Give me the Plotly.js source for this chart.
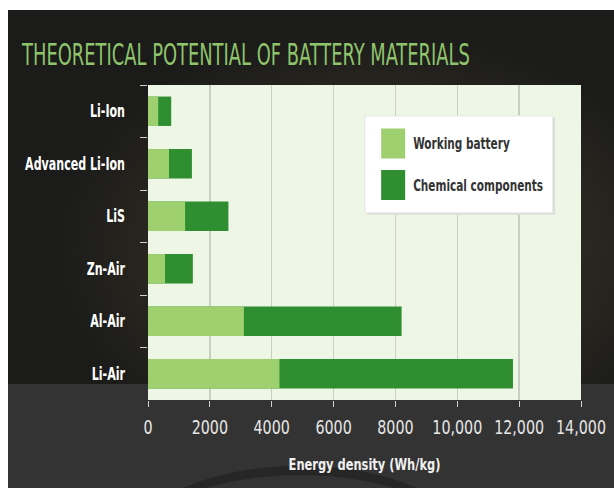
<!DOCTYPE html>
<html>
<head>
<meta charset="utf-8">
<script src="https://cdn.plot.ly/plotly-3.0.1.min.js"></script>
<style>
  html, body { margin: 0; padding: 0; background: #ffffff; }
  #wrap { position: relative; width: 614px; height: 488px; overflow: hidden; background: #ffffff; }
  #dark { position: absolute; left: 8px; top: 10px; width: 606px; height: 374px;
          background: radial-gradient(ellipse 320px 220px at 365px 240px, #3c3828 0%, #28261f 70%, #1b1b1a 100%); }
  #grey { position: absolute; left: 8px; top: 384px; width: 606px; height: 104px; background: #333333; }
  #arc { position: absolute; left: 140px; top: 466px; width: 320px; height: 140px; border-radius: 50%;
         border: 9px solid #262626; box-sizing: border-box; }
  #chart { position: absolute; left: 0; top: 0; width: 614px; height: 488px; }
</style>
</head>
<body>
<div id="wrap">
  <div id="dark"></div>
  <div id="grey"></div>
  <div id="arc"></div>
  <div id="chart"></div>
</div>
<script>
const categories = ["Li-Ion", "Advanced Li-Ion", "LiS", "Zn-Air", "Al-Air", "Li-Air"];
const workingBattery = [330, 680, 1200, 550, 3100, 4250];
const chemicalComponents = [750, 1420, 2600, 1450, 8200, 11800];
const tickValues = [0, 2000, 4000, 6000, 8000, 10000, 12000, 14000];
const tickLabels = ["0", "2000", "4000", "6000", "8000", "10,000", "12,000", "14,000"];

const FONT = "'DejaVu Sans Condensed', 'DejaVu Sans', sans-serif";

const traces = [
  {
    type: "bar", orientation: "h", name: "Chemical components",
    y: categories, x: chemicalComponents, legendgroup: "chem", legendrank: 2,
    marker: { color: "#2f8f30" }, width: 0.56, opacity: 1
  },
  {
    type: "bar", orientation: "h", name: "Working battery",
    y: categories, x: workingBattery, legendgroup: "work", legendrank: 1,
    marker: { color: "#9fd070" }, width: 0.56, opacity: 1
  }
];

const layout = {
  width: 614, height: 488,
  paper_bgcolor: "rgba(0,0,0,0)",
  plot_bgcolor: "#eef6e6",
  margin: { l: 148, r: 33, t: 85, b: 88 },
  barmode: "overlay",
  showlegend: true,
  title: {
    text: "THEORETICAL POTENTIAL OF BATTERY MATERIALS",
    font: { family: FONT, size: 30, color: "#8fc46c" },
    xref: "container", yref: "container",
    x: 0.036, xanchor: "left", y: 0.889, yanchor: "middle"
  },
  xaxis: {
    range: [0, 14000],
    tickmode: "array", tickvals: tickValues, ticktext: tickLabels,
    ticks: "outside", ticklen: 6, tickcolor: "#cfcfcf", tickwidth: 1,
    showgrid: true, gridcolor: "#c9cfc3", gridwidth: 1.5,
    zeroline: false, showline: false,
    tickfont: { family: FONT, size: 19, color: "#e6e6e6" },
    ticklabelstandoff: 4,
    title: { text: "Energy density (Wh/kg)", font: { family: FONT, size: 15, color: "#f0f0f0", weight: "bold" }, standoff: 22 }
  },
  yaxis: {
    autorange: "reversed",
    type: "category",
    tickson: "boundaries",
    ticks: "outside", ticklen: 7, tickcolor: "#d0d0d0", tickwidth: 1,
    showgrid: false, zeroline: false, showline: false,
    tickfont: { family: FONT, size: 17, color: "#ffffff", weight: "bold" },
    ticklabelstandoff: 22
  },
  legend: {
    x: 0.52, xanchor: "left", y: 0.866, yanchor: "top",
    bgcolor: "rgba(0,0,0,0)", borderwidth: 0,
    traceorder: "grouped",
    font: { family: FONT, size: 15, color: "#333333", weight: "bold" },
    tracegroupgap: 19
  },
  shapes: [
    { type: "rect", xref: "paper", yref: "paper", x0: 0.506, x1: 0.940, y0: 0.588, y1: 0.896,
      fillcolor: "#d9ddd3", line: { width: 0 }, layer: "above" },
    { type: "rect", xref: "paper", yref: "paper", x0: 0.501, x1: 0.935, y0: 0.594, y1: 0.902,
      fillcolor: "#ffffff", line: { color: "#e4e4e4", width: 1 }, layer: "above" }
  ],
  hovermode: false
};

function squeeze(nodes, factor) {
  nodes.forEach(n => {
    const ax = parseFloat(n.getAttribute("x")) || 0;
    const t = n.getAttribute("transform") || "";
    n.setAttribute("transform",
      (t + " translate(" + ax + ",0) scale(" + factor.toFixed(4) + ",1) translate(" + (-ax) + ",0)").trim());
  });
}
function factorFor(nodes, text, target) {
  const n = nodes.find(t => t.textContent === text);
  return n ? target / n.getComputedTextLength() : 0.65;
}

Plotly.newPlot("chart", traces, layout, { displayModeBar: false, staticPlot: true }).then(gd => {
  const title = Array.from(gd.querySelectorAll(".gtitle"));
  squeeze(title, factorFor(title, "THEORETICAL POTENTIAL OF BATTERY MATERIALS", 448));

  const yt = Array.from(gd.querySelectorAll(".ytick text"));
  squeeze(yt, factorFor(yt, "Advanced Li-Ion", 100));

  const xt = Array.from(gd.querySelectorAll(".xtick text"));
  squeeze(xt, factorFor(xt, "10,000", 50));

  const xtitle = Array.from(gd.querySelectorAll(".xtitle"));
  squeeze(xtitle, factorFor(xtitle, "Energy density (Wh/kg)", 152));

  const lt = Array.from(gd.querySelectorAll(".legendtext"));
  squeeze(lt, factorFor(lt, "Chemical components", 130));

  gd.querySelectorAll(".legendpoints path").forEach(p => {
    p.setAttribute("d", "M12,15H-12V-15H12Z");
  });
});
</script>
</body>
</html>
